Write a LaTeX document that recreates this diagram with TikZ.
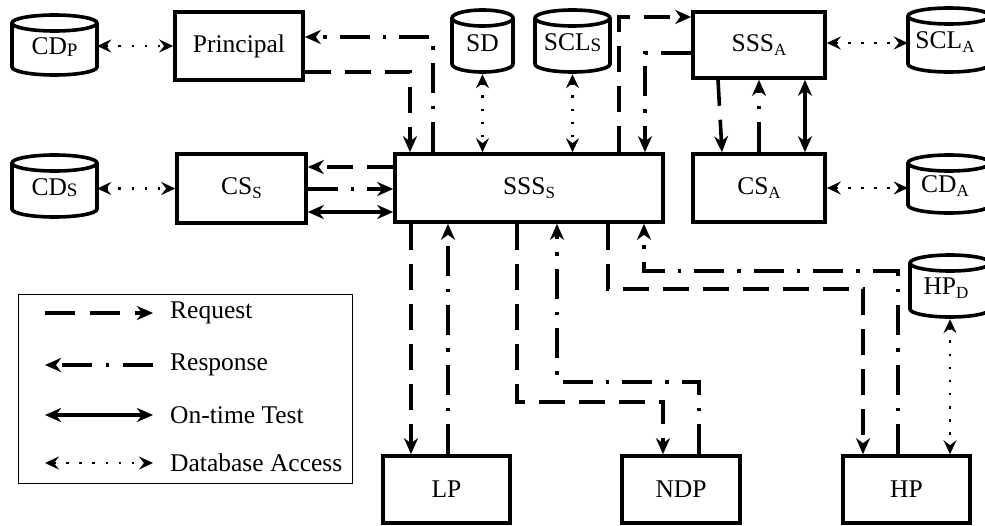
\documentclass[tikz,border=0pt]{standalone}
\usepackage{fontspec}
\setmainfont{Liberation Serif}
\usetikzlibrary{arrows.meta}
\newcommand\sbs[1]{\raisebox{-0.35ex}{\fontsize{17}{17}\selectfont #1}}
\newcommand\sbd[1]{\raisebox{-0.1ex}{\fontsize{19}{19}\selectfont #1}}
\tikzset{
  myst/.tip={Stealth[length=16pt,width=14pt,inset=5pt]},
  mysd/.tip={Stealth[length=14pt,width=13pt,inset=5pt]},
  lbl/.style={font=\fontsize{25.5}{30}\selectfont},
  base/.style={line width=3.6pt},
  req/.style={base, dash pattern=on 26pt off 14pt, -myst},
  resp/.style={base, dash pattern=on 30pt off 13pt on 3.5pt off 13pt, -myst},
  ontime/.style={base, myst-myst},
  dbl/.style={line width=2.6pt, dash pattern=on 2.6pt off 10.5pt, mysd-mysd},
  box/.style={draw, line width=3.6pt, lbl, inner sep=0pt},
  cylnode/.style={lbl, inner sep=0pt},
  cylline/.style={line width=3.6pt},
}
\newcommand\dbcyl[6]{%
  \pgfmathsetmacro\cxx{(#2+#3)/2}%
  \pgfmathsetmacro\rxx{(#3-#2)/2}%
  \pgfmathsetmacro\ww{#3-#2}%
  \pgfmathsetmacro\cyy{(#4+#5)/2+2}%
  \pgfmathsetmacro\hh{#5-#4}%
  \pgfmathsetmacro\ytt{#4+8}%
  \pgfmathsetmacro\ybb{#5-8}%
  \node[cylnode, minimum width=\ww pt, minimum height=\hh pt] (#1) at (\cxx,\cyy) {#6};
  \draw[cylline] (\cxx,\ytt) ellipse [x radius=\rxx pt, y radius=8pt];
  \draw[cylline] (#2,\ytt) -- (#2,\ybb) arc[start angle=180, end angle=360, x radius=\rxx pt, y radius=8pt] -- (#3,\ytt);
}
\begin{document}
\begin{tikzpicture}[x=1pt,y=-1pt]
\fill[white] (0,0) rectangle (985,525);
\useasboundingbox (0,0) rectangle (985,525);
\clip (0,0) rectangle (985,525);
% boxes
\node[box, minimum width=128pt, minimum height=68pt] (principal) at (239,46) {Principal};
\node[box, minimum width=129pt, minimum height=69pt] (css) at (241.5,188.5) {CS\sbs{S}};
\node[box, minimum width=268pt, minimum height=68pt] (ssss) at (529,188) {SSS\sbs{S}};
\node[box, minimum width=132pt, minimum height=66pt] (sssa) at (759,45) {SSS\sbs{A}};
\node[box, minimum width=132pt, minimum height=68pt] (csa) at (759,188) {CS\sbs{A}};
\node[box, minimum width=127pt, minimum height=67pt] (lp) at (446.5,489.5) {LP};
\node[box, minimum width=118pt, minimum height=67pt] (ndp) at (681,489.5) {NDP};
\node[box, minimum width=127pt, minimum height=67pt] (hp) at (906.5,489.5) {HP};
% databases
\dbcyl{cdp}{12}{97}{15}{75}{CD\sbd{P}}
\dbcyl{cds}{12}{97}{155}{217}{CD\sbd{S}}
\dbcyl{sd}{452}{513}{10}{72}{SD}
\dbcyl{scls}{535}{610}{10}{72}{SCL\sbd{S}}
\dbcyl{scla}{908}{990}{8}{72}{\hspace*{-8pt}SCL\sbs{A}}
\dbcyl{cda}{908}{990}{155}{213}{\hspace*{-8pt}CD\sbs{A}}
\dbcyl{hpd}{910}{990}{255}{317}{\hspace*{-8pt}HP\sbs{D}}
% helper coordinates
\coordinate (c1) at (433,37);
\coordinate (c2) at (410,72);
\coordinate (c3) at (619,17);
\coordinate (c4) at (645,53);
\coordinate (c5) at (0,167);
\coordinate (c6) at (0,189);
\coordinate (c7) at (0,212);
\coordinate (c8) at (0,43);
\coordinate (c9) at (718,0);
\coordinate (c10) at (722,0);
\coordinate (c11) at (759,0);
\coordinate (c12) at (805,0);
\coordinate (c13) at (411,0);
\coordinate (c14) at (448,0);
\coordinate (c15) at (517,402);
\coordinate (c16) at (663,402);
\coordinate (c17) at (699,382);
\coordinate (c18) at (557,382);
\coordinate (c19) at (608,289);
\coordinate (c20) at (863,289);
\coordinate (c21) at (898,271);
\coordinate (c22) at (644,271);
% connectors
\draw[dbl] (cdp.east |- principal.west) -- (principal.west);
\draw[resp] (ssss.north -| c1) |- (principal.east |- c1);
\draw[req] (principal.east |- c2) -| (ssss.north -| c2);
\draw[dbl] (sd.south) -- (ssss.north -| sd.south);
\draw[dbl] (scls.south) -- (ssss.north -| scls.south);
\draw[req] (ssss.north -| c3) |- (sssa.west |- c3);
\draw[resp] (sssa.west |- c4) -| (ssss.north -| c4);
\draw[req] (ssss.west |- c5) -- (css.east |- c5);
\draw[resp] (css.east |- c6) -- (ssss.west |- c6);
\draw[ontime] (css.east |- c7) -- (ssss.west |- c7);
\draw[dbl] (cds.east |- css.west) -- (css.west);
\draw[dbl] (sssa.east |- c8) -- (scla.west |- c8);
\draw[dbl] (csa.east) -- (cda.west |- csa.east);
\draw[req] (sssa.south -| c9) -- (csa.north -| c10);
\draw[resp] (csa.north -| c11) -- (sssa.south -| c11);
\draw[ontime] (sssa.south -| c12) -- (csa.north -| c12);
\draw[req] (ssss.south -| c13) -- (lp.north -| c13);
\draw[resp] (lp.north -| c14) -- (ssss.south -| c14);
\draw[req] (ssss.south -| c15) -- (c15) -- (c16) -- (ndp.north -| c16);
\draw[resp] (ndp.north -| c17) -- (c17) -- (c18) -- (ssss.south -| c18);
\draw[req] (ssss.south -| c19) -- (c19) -- (c20) -- (hp.north -| c20);
\draw[resp] (hp.north -| c21) -- (c21) -- (c22) -- (ssss.south -| c22);
\draw[dbl] (hpd.south) -- (hp.north -| hpd.south);
% legend
\node[draw, line width=1pt, minimum width=334pt, minimum height=189pt] (legend) at (185,388.5) {};
\coordinate (la1) at (45,313); \coordinate (lb1) at (153,313);
\coordinate (la2) at (45,365); \coordinate (lb2) at (153,365);
\coordinate (la3) at (45,415); \coordinate (lb3) at (153,415);
\coordinate (la4) at (45,463); \coordinate (lb4) at (153,463);
\draw[req, dash pattern=on 30pt off 15pt] (la1) -- (lb1);
\draw[resp, dash pattern=on 30pt off 14pt on 3.5pt off 14pt] (lb2) -- (la2);
\draw[ontime] (la3) -- (lb3);
\draw[dbl] (la4) -- (lb4);
\node[lbl, anchor=west, inner sep=0pt] (t1) at (170,313) {Request};
\node[lbl, anchor=west, inner sep=0pt] (t2) at (170,365) {Response};
\node[lbl, anchor=west, inner sep=0pt] (t3) at (170,415) {On-time Test};
\node[lbl, anchor=west, inner sep=0pt] (t4) at (170,463) {Database Access};
\end{tikzpicture}
\end{document}
